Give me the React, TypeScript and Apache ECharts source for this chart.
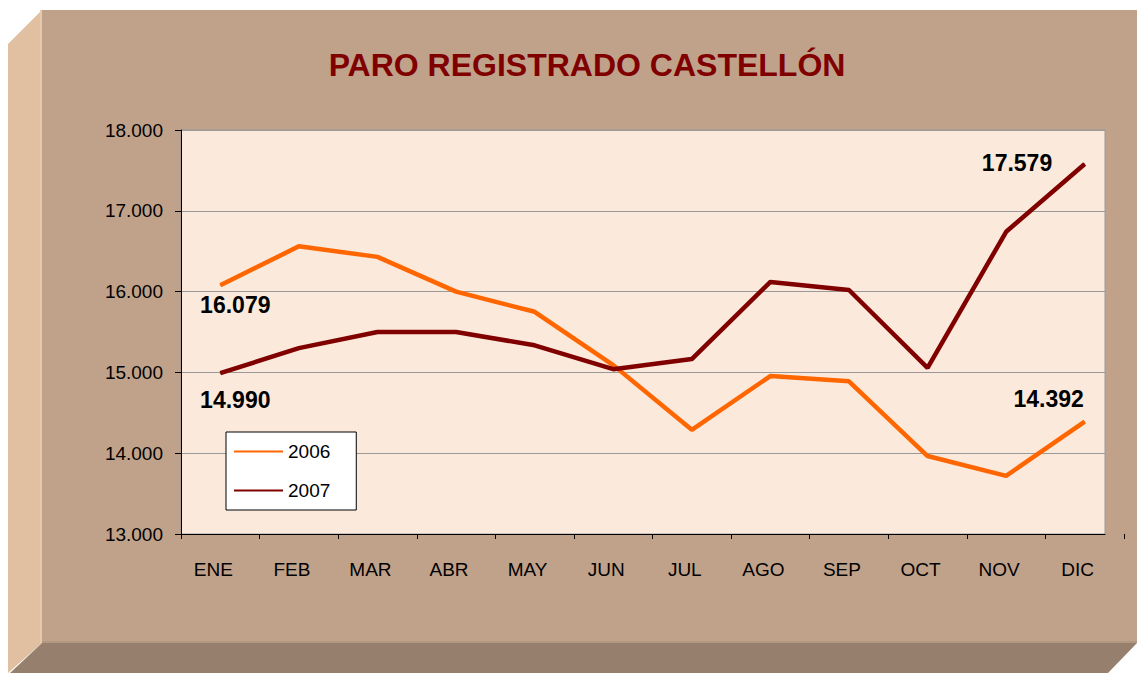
import React, { useEffect, useRef } from "react";
import * as echarts from "echarts";

const months = ["ENE", "FEB", "MAR", "ABR", "MAY", "JUN", "JUL", "AGO", "SEP", "OCT", "NOV", "DIC"];
const values2006 = [16079, 16560, 16430, 16000, 15750, 15090, 14290, 14955, 14890, 13965, 13720, 14392];
const values2007 = [14990, 15300, 15500, 15500, 15335, 15040, 15165, 16120, 16020, 15055, 16740, 17579];
const yTicks = { min: 13000, max: 18000, interval: 1000 };
const titleText = "PARO REGISTRADO CASTELLÓN";

const fmt = (v: number) => String(v).replace(/\B(?=(\d{3})+(?!\d))/g, ".");
const FONT = "'Liberation Sans', Arial, sans-serif";

export default function App() {
  const ref = useRef<HTMLDivElement>(null);
  useEffect(() => {
    if (!ref.current) return;
    const chart = echarts.init(ref.current, null, { renderer: "svg" });
    const bold = { fontFamily: FONT, fontWeight: "bold" as const, fontSize: 23, color: "#000" };
    const d2006 = values2006.map((v, i) => {
      if (i === 0) return { value: v, label: { show: true, position: "bottom", distance: 8, offset: [15, 0], ...bold } };
      if (i === 11) return { value: v, label: { show: true, position: "top", distance: 11, offset: [-36, 0], ...bold } };
      return v;
    });
    const d2007 = values2007.map((v, i) => {
      if (i === 0) return { value: v, label: { show: true, position: "bottom", distance: 15, offset: [15, 0], ...bold } };
      if (i === 11) return { value: v, label: { show: true, position: "left", distance: 32, offset: [0, -1], ...bold } };
      return v;
    });
    chart.setOption({
      animation: false,
      textStyle: { fontFamily: FONT },
      title: {
        text: titleText,
        left: 582,
        textAlign: "center",
        top: 44,
        textStyle: { fontFamily: FONT, fontWeight: "bold", fontSize: 32, color: "#800000" },
      },
      graphic: [
        { type: "rect", z: -10, shape: { x: 42, y: 10, width: 1095, height: 633 }, style: { fill: "#C0A28A" } },
        { type: "polygon", z: -10, shape: { points: [[8, 44], [42, 10], [42, 643], [8, 673]] }, style: { fill: "#E0C0A1" } },
        { type: "rect", z: -9, shape: { x: 40, y: 10, width: 2, height: 633 }, style: { fill: "#E6C9AE" } },
        { type: "polygon", z: -10, shape: { points: [[42, 643], [1137, 643], [1108, 673], [10, 673]] }, style: { fill: "#967F6D" } },
        { type: "rect", z: -9, shape: { x: 42, y: 641, width: 1095, height: 2 }, style: { fill: "#B29781" } },
      ],
      legend: {
        orient: "vertical",
        left: 226,
        top: 432,
        backgroundColor: "#fff",
        borderColor: "#000",
        borderWidth: 1,
        borderRadius: 0,
        padding: [10, 26, 10, 8],
        itemGap: 20,
        itemWidth: 49,
        itemHeight: 2,
        icon: "rect",
        textStyle: { fontFamily: FONT, fontSize: 19, color: "#000" },
        data: ["2006", "2007"],
      },
      grid: [
        { left: 181, top: 130, width: 924, height: 404, show: true, backgroundColor: "#FBE9DC", borderColor: "#999", borderWidth: 1 },
        { left: 181, top: 130, width: 943, height: 404 },
      ],
      xAxis: [
        {
          gridIndex: 0,
          type: "category",
          data: months,
          axisLine: { lineStyle: { color: "#000", width: 1 } },
          axisTick: { show: false },
          axisLabel: { show: false },
        },
        {
          gridIndex: 1,
          type: "category",
          data: months,
          boundaryGap: true,
          axisLine: { show: false },
          axisTick: { show: true, inside: false, length: 5, lineStyle: { color: "#000" } },
          axisLabel: { fontFamily: FONT, fontSize: 19, color: "#000", margin: 26, padding: [0, 14, 0, 0] },
        },
      ],
      yAxis: [
        {
          gridIndex: 0,
          type: "value",
          min: yTicks.min,
          max: yTicks.max,
          interval: yTicks.interval,
          axisLine: { show: true, lineStyle: { color: "#000" } },
          axisTick: { show: true, length: 6, lineStyle: { color: "#000" } },
          splitLine: { show: true, lineStyle: { color: "#999", width: 1 } },
          axisLabel: { fontFamily: FONT, fontSize: 19, color: "#000", margin: 18, formatter: (v: number) => fmt(v) },
        },
        {
          gridIndex: 1,
          type: "value",
          min: yTicks.min,
          max: yTicks.max,
          interval: yTicks.interval,
          show: false,
        },
      ],
      series: [
        {
          name: "2006",
          type: "line",
          xAxisIndex: 1,
          yAxisIndex: 1,
          data: d2006,
          symbol: "circle",
          symbolSize: 1,
          showSymbol: true,
          lineStyle: { color: "#FF6600", width: 4.5 },
          itemStyle: { color: "#FF6600" },
          label: { show: false, formatter: (p: any) => fmt(p.value) },
        },
        {
          name: "2007",
          type: "line",
          xAxisIndex: 1,
          yAxisIndex: 1,
          data: d2007,
          symbol: "circle",
          symbolSize: 1,
          showSymbol: true,
          lineStyle: { color: "#800000", width: 4.5 },
          itemStyle: { color: "#800000" },
          label: { show: false, formatter: (p: any) => fmt(p.value) },
        },
      ],
    });
    return () => chart.dispose();
  }, []);
  return (
    <div
      ref={ref}
      style={{ position: "absolute", left: 0, top: 0, width: 1137, height: 673, background: "#fff" }}
    />
  );
}
